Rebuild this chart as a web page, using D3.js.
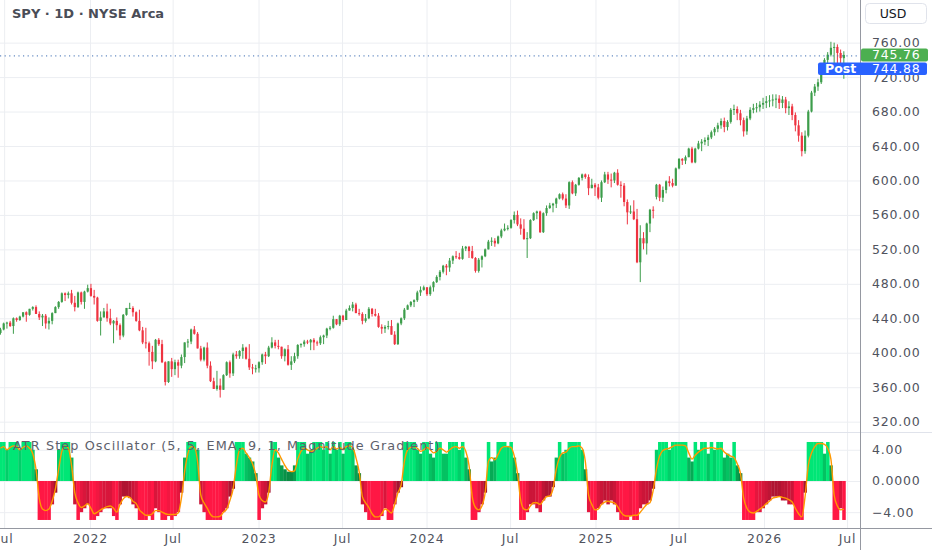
<!DOCTYPE html>
<html>
<head>
<meta charset="utf-8">
<script src="https://cdn.jsdelivr.net/npm/d3@7"></script>
<style>
  html, body { margin: 0; padding: 0; background: #ffffff; }
  svg { display: block; font-family: "DejaVu Sans", "Noto Sans", sans-serif; }
</style>
</head>
<body>
<div id="chart-area"></div>
<script>
// SPY weekly candles (first week: week of Jun 21 2021)
var open = [423,427,434,435,431,440,438,442,447,444,
  451,453,445,441,443,434,437,446,453,459,
  469,467,469,458,453,470,459,471,475,466,
  464,437,441,448,440,434,437,432,420,444,
  452,452,447,437,426,412,411,401,390,415,
  410,389,366,390,381,389,385,395,412,413,
  427,422,405,392,406,385,367,358,362,357,
  374,389,376,398,396,402,406,393,383,382,
  382,389,398,396,406,412,408,407,396,404,
  386,390,396,409,410,413,412,415,412,411,
  418,420,428,429,439,433,443,438,449,452,
  456,446,445,437,440,451,445,443,430,428,
  430,431,421,410,434,440,450,455,459,461,
  470,473,476,468,476,482,488,494,501,499,
  507,512,511,509,521,523,518,510,495,508,
  512,520,529,530,527,535,542,544,545,554,
  560,549,544,532,533,554,562,564,540,562,
  568,571,573,579,584,579,571,598,585,595,
  603,607,604,591,595,592,580,598,607,601,
  600,609,595,594,575,563,564,555,505,533,
  527,550,566,581,595,580,589,599,597,594,
  614,625,623,627,637,621,637,643,645,647,
  650,656,660,664,669,662,668,682,683,678,
  670,657,672,682,684,685,688,690,692,693,
  694,695,690,694,684,686,676,664,652,634,
  652,680,702,709,714,726,740,746,754,755,
  748,742];
var high = [429,435,436,437,441,441,443,447,448,451,
  454,455,448,445,445,441,447,454,460,470,
  470,471,473,466,471,471,472,479,480,473,
  465,448,452,457,451,438,441,434,445,452,
  458,454,448,450,430,429,413,408,416,417,
  415,390,390,394,392,392,398,412,416,428,
  431,424,408,407,412,390,371,379,370,375,
  390,391,400,402,403,410,407,410,387,386,
  390,399,401,408,418,415,415,407,405,409,
  396,400,410,411,415,415,416,417,414,420,
  421,429,431,443,439,444,444,451,455,459,
  458,451,447,445,453,452,451,446,433,432,
  437,438,425,435,441,452,456,460,462,472,
  477,478,476,478,483,490,496,502,503,510,
  513,518,516,524,524,524,524,511,510,513,
  521,531,534,533,536,544,550,548,555,564,
  565,556,555,540,555,563,565,565,563,571,
  574,574,580,585,586,584,599,600,596,604,
  608,608,607,602,597,596,600,610,610,608,
  610,613,599,597,578,571,577,567,548,540,
  551,567,570,596,596,593,600,605,602,615,
  626,626,629,638,639,638,646,648,650,653,
  658,662,667,672,673,670,684,688,686,682,
  673,675,685,689,690,692,696,698,699,700,
  700,699,698,697,692,689,679,670,656,658,
  682,704,712,718,728,742,749,761,760,758,
  752,750];
var low = [421,426,428,430,422,436,437,441,436,443,
  449,445,438,431,428,427,433,446,451,458,
  460,463,456,448,452,456,451,470,465,456,
  436,420,441,436,432,411,426,415,418,443,
  451,442,436,425,410,405,385,381,389,408,
  388,362,365,372,374,371,382,388,406,410,
  421,405,390,390,382,366,358,356,348,357,
  373,371,373,393,393,393,392,380,375,377,
  377,386,387,395,405,405,404,393,390,385,
  380,388,393,406,407,410,403,403,408,409,
  410,417,426,428,432,431,436,438,449,448,
  446,443,433,435,439,442,442,429,422,423,
  427,421,409,409,432,438,450,453,453,459,
  466,472,466,466,471,481,484,492,490,494,
  503,509,508,508,518,510,509,493,493,499,
  511,520,524,523,526,533,541,542,544,550,
  547,537,531,510,532,553,555,539,539,559,
  567,563,568,578,577,568,567,584,582,594,
  600,602,583,591,582,578,575,597,596,592,
  597,594,580,570,549,561,554,504,482,520,
  514,540,556,578,576,575,585,593,592,594,
  613,618,619,627,620,620,636,634,641,640,
  648,652,656,660,656,658,666,676,670,664,
  651,653,670,678,679,680,683,684,685,686,
  684,683,684,678,676,670,657,645,628,631,
  650,679,698,704,712,724,736,744,735,733,
  732,718];
var close = [427,434,435,431,440,438,442,447,444,451,
  453,445,441,443,434,437,446,453,459,469,
  467,469,458,453,470,459,471,475,466,464,
  437,441,448,440,434,437,432,420,444,452,
  452,447,437,426,412,411,401,390,415,410,
  389,366,390,381,389,385,395,412,413,427,
  422,405,392,406,385,367,358,362,357,374,
  389,376,398,396,402,406,393,383,382,382,
  389,398,396,406,412,408,407,396,404,386,
  390,396,409,410,413,412,415,412,411,418,
  420,428,429,439,433,443,438,449,452,456,
  446,445,437,440,451,445,443,430,428,430,
  431,421,410,434,440,450,455,459,461,470,
  473,476,468,476,482,488,494,501,499,507,
  512,511,509,521,523,518,510,495,508,512,
  520,529,530,527,535,542,544,545,554,560,
  549,544,532,533,554,562,564,540,562,568,
  571,573,579,584,579,571,598,585,595,603,
  607,604,591,595,592,580,598,607,601,600,
  609,595,594,575,563,564,555,505,533,527,
  550,566,565,595,580,589,599,597,594,614,
  625,623,627,637,621,637,643,645,647,650,
  656,660,664,669,662,668,682,683,678,670,
  657,672,682,684,685,688,690,692,693,694,
  695,690,694,684,686,676,664,652,634,652,
  680,702,709,714,726,740,746,754,755,748,
  742,745.76];

// ATR Step Oscillator histogram (clamped at +/-5) and its EMA line, same weeks
var osc = [5,5,4,5,5,5,4,5,5,5,4,1.5,
  -5,-5,-5,-5,-3,-1.5,
  4,5,5,5,3,
  -3,-5,-4,-3.5,-3,-5,-5,-4.5,-4,-3.5,-3.5,-3.5,-4.5,-5,-3,-2,-2,-2.2,-3,-3.5,-5,-5,-5,-4.5,-5,-3.5,-4,-5,-5,-4.5,-5,-4.5,-4,-1.5,
  3,5,5,5,4,
  -3,-4,-5,-5,-5,-5,-5,-4,-3.5,-2,-1,
  5,5,5,3.5,3,2.5,1,
  -5,-3.5,-3,-1.5,
  5,5,3,2,1.5,1.2,1.2,2,5,5,5,3.5,4,5,5,5,4,5,3.5,5,4,5,3.5,5,5,4,2,1,
  -3,-4,-5,-5,-5,-5,-4.5,-3.5,-5,-5,-3,-1.5,-0.8,
  5,5,5,5,4,3.5,5,5,3.5,3,5,5,3.5,3.5,5,5,5,4,5,3,1.5,
  -5,-5,-4,-3,-1.5,
  5,2.5,3,5,5,5,4.5,5,3,1,
  -5,-5,-4,-3,-3,-3.5,-4,-2.5,-2,-2,-0.8,
  3,5,3.5,4,5,5,5,5,4,1.5,
  -4,-5,-5,-3.5,-3,-2.5,-3,-2.5,-3,-4,-5,-5,-5,-4.5,-5,-5,-3.5,-3,-3,-2.5,-1,
  4,5,5,5,4,5,5,5,5,5,3,2.5,5,4,5,5,3.5,5,4,5,5,3,3.5,3,5,2,1,
  -5,-5,-5,-5,-4,-4,-3.5,-3,-2.5,-2,-2,-2,-2.5,-2.5,-3,-3,-5,-5,-5,-1.5,
  5,5,5,5,5,3.5,5,2,
  -5,-5,-3.5,-5];
var signal = [4.2,4.4,4.0,4.3,4.5,4.4,4.0,4.3,4.5,4.2,3.5,1.5,
  -2.2,-3.6,-3.8,-3.6,-2.6,-1.0,
  1.5,3.8,4.5,4.2,2.0,
  -1.5,-2.8,-3.4,-3.2,-2.9,-3.5,-4.2,-4.0,-3.7,-3.5,-3.3,-3.2,-3.5,-4.0,-3.0,-2.3,-2.0,-2.1,-2.6,-2.9,-3.7,-4.1,-4.4,-4.4,-4.2,-3.8,-3.8,-4.0,-4.2,-4.3,-4.3,-4.3,-4.1,-2.2,
  1.2,3.5,4.4,4.3,2.5,
  -1.8,-2.8,-3.5,-4.3,-4.6,-4.6,-4.5,-4.0,-3.6,-2.5,-1.0,
  2.0,4.0,4.2,3.6,3.0,2.2,0.8,
  -1.8,-2.5,-2.7,-1.5,
  2.0,4.0,3.6,2.8,2.0,1.4,1.2,1.3,2.8,3.8,4.2,4.0,3.8,3.9,4.2,4.4,4.3,4.4,4.0,4.4,4.1,4.3,4.0,4.4,4.5,4.3,3.0,1.2,
  -2.0,-2.8,-3.4,-4.2,-4.6,-4.6,-4.2,-3.6,-3.8,-4.1,-3.0,-1.5,-0.5,
  2.5,4.0,4.3,4.4,4.2,3.8,4.0,4.3,4.0,3.6,3.8,4.2,4.0,3.7,4.0,4.3,4.4,4.2,4.4,3.8,2.0,
  -2.0,-3.4,-3.7,-3.2,-1.5,
  2.5,3.0,2.7,3.4,4.2,4.4,4.4,4.3,3.2,1.0,
  -2.5,-3.6,-3.7,-3.2,-2.8,-2.8,-3.0,-2.5,-2.0,-1.9,-1.0,
  1.5,3.0,3.6,3.7,4.2,4.4,4.4,4.5,4.2,2.5,
  -1.8,-3.0,-3.7,-3.6,-3.0,-2.7,-2.6,-2.7,-2.8,-3.3,-4.0,-4.4,-4.5,-4.5,-4.4,-4.4,-4.0,-3.5,-3.0,-2.8,-1.2,
  1.5,3.2,3.9,4.1,4.2,4.4,4.6,4.6,4.6,4.5,3.6,2.8,3.3,3.7,4.0,4.2,4.2,4.3,4.2,4.1,4.2,3.7,3.4,3.2,3.0,2.2,1.0,
  -2.2,-3.5,-4.0,-4.1,-3.9,-3.6,-3.3,-2.9,-2.6,-2.2,-2.1,-2.0,-2.1,-2.2,-2.4,-2.7,-3.5,-4.2,-4.6,-2.0,
  2.0,3.6,4.4,4.8,4.8,4.7,4.2,2.8,
  -1.8,-3.2,-3.7,-3.6];

var priceTicks = [320, 360, 400, 440, 480, 520, 560, 600, 640, 680, 720, 760];
var oscTicks = [4, 0, -4];
var timeTicks = [new Date(2021, 6, 1), new Date(2022, 0, 3), new Date(2022, 6, 1),
  new Date(2023, 0, 3), new Date(2023, 6, 3), new Date(2024, 0, 2), new Date(2024, 6, 1),
  new Date(2025, 0, 2), new Date(2025, 6, 1), new Date(2026, 0, 2), new Date(2026, 6, 1)];

var lastPrice = 745.76,
    postPrice = 744.88;

var width = 932, height = 550;
var plotW = 860;
var mainBottom = 432, oscBottom = 528;

var upColor = "#3d9d4b", downColor = "#ee3340";
var textColor = "#50535e", gridColor = "#eceef2", sepColor = "#9598a1";

var svg = d3.select("#chart-area")
    .append("svg")
        .attr("width", width)
        .attr("height", height);

// one candle per week, centred on the Wednesday
var weeks = d3.timeWednesday.range(new Date(2021, 5, 23), new Date(2026, 5, 26));

var bars = close.map(function (c, i) {
    return {date: weeks[i], o: open[i], h: high[i], l: low[i], c: c, osc: osc[i], sig: signal[i]};
});

// X Scale (time, shared by both panes)
var x = d3.scaleTime()
    .domain([new Date(2021, 5, 22), new Date(2026, 6, 29)])
    .range([0, plotW]);

// Y Scales
var y = d3.scaleLinear().domain([308, 809.5]).range([mainBottom, 0]);
var y2 = d3.scaleLinear().domain([-6.03, 6.28]).range([oscBottom, mainBottom]);

var step = x(weeks[1]) - x(weeks[0]);

svg.append("defs").selectAll("clipPath")
    .data([["clipMain", 0, mainBottom], ["clipOsc", mainBottom, oscBottom - mainBottom]])
    .enter().append("clipPath")
        .attr("id", function (d) { return d[0]; })
    .append("rect")
        .attr("x", 0).attr("y", function (d) { return d[1]; })
        .attr("width", plotW).attr("height", function (d) { return d[2]; });

function styleGrid(g) {
    g.select(".domain").remove();
    g.selectAll("line").attr("stroke", gridColor);
}

// Grid lines
svg.append("g")
    .call(d3.axisBottom(x).tickValues(timeTicks).tickSize(oscBottom).tickFormat(""))
    .call(styleGrid);
svg.append("g")
    .call(d3.axisRight(y).tickValues(priceTicks).tickSize(plotW).tickFormat(""))
    .call(styleGrid);
svg.append("g")
    .call(d3.axisRight(y2).tickValues(oscTicks).tickSize(plotW).tickFormat(""))
    .call(styleGrid);

// Candles
var gMain = svg.append("g").attr("clip-path", "url(#clipMain)");
var candle = gMain.selectAll("g.candle")
    .data(bars)
    .enter().append("g")
        .attr("class", "candle")
        .attr("fill", function (d) { return d.c >= d.o ? upColor : downColor; })
        .attr("stroke", function (d) { return d.c >= d.o ? upColor : downColor; });

candle.append("line")
    .attr("x1", function (d) { return x(d.date); })
    .attr("x2", function (d) { return x(d.date); })
    .attr("y1", function (d) { return y(d.h); })
    .attr("y2", function (d) { return y(d.l); })
    .attr("stroke-width", 1);

candle.append("rect")
    .attr("stroke", "none")
    .attr("x", function (d) { return x(d.date) - 1.1; })
    .attr("width", 2.2)
    .attr("y", function (d) { return y(Math.max(d.o, d.c)); })
    .attr("height", function (d) { return Math.max(1, Math.abs(y(d.o) - y(d.c))); });

// last price line (dotted)
svg.append("line")
    .attr("x1", 0).attr("x2", plotW)
    .attr("y1", y(lastPrice) + 1).attr("y2", y(lastPrice) + 1)
    .attr("stroke", "#3f6fb3")
    .attr("stroke-width", 1)
    .attr("stroke-dasharray", "1.2,3.4");

// Oscillator histogram with magnitude gradient
var greenScale = d3.scaleLinear().domain([0, 5]).range(["#0c6e33", "#00e676"]).clamp(true);
var redScale = d3.scaleLinear().domain([0, 5]).range(["#7c1226", "#ff1744"]).clamp(true);

var gOsc = svg.append("g").attr("clip-path", "url(#clipOsc)");
gOsc.selectAll("rect")
    .data(bars)
    .enter().append("rect")
        .attr("x", function (d) { return x(d.date) - step / 2; })
        .attr("width", step + 0.3)
        .attr("y", function (d) { return y2(Math.max(0, d.osc)); })
        .attr("height", function (d) { return Math.abs(y2(d.osc) - y2(0)); })
        .attr("fill", function (d) { return d.osc >= 0 ? greenScale(d.osc) : redScale(-d.osc); });

var sigLine = d3.line()
    .x(function (d) { return x(d.date); })
    .y(function (d) { return y2(d.sig); })
    .curve(d3.curveMonotoneX);

gOsc.append("path")
    .datum(bars)
    .attr("d", sigLine)
    .attr("fill", "none")
    .attr("stroke", "#ff9800")
    .attr("stroke-width", 1.4);

// Pane separators
svg.append("line")
    .attr("x1", 0).attr("x2", width).attr("y1", mainBottom + 0.5).attr("y2", mainBottom + 0.5)
    .attr("stroke", "#e0e3eb");
svg.append("line")
    .attr("x1", 0).attr("x2", width).attr("y1", oscBottom + 0.5).attr("y2", oscBottom + 0.5)
    .attr("stroke", sepColor);
svg.append("line")
    .attr("x1", plotW + 0.5).attr("x2", plotW + 0.5).attr("y1", 0).attr("y2", height)
    .attr("stroke", sepColor);

function styleAxis(g) {
    g.select(".domain").remove();
    g.attr("font-family", null).attr("font-size", null);
    g.selectAll("text")
        .attr("fill", textColor)
        .attr("font-size", "12.5px")
        .style("letter-spacing", "0.8px");
}

// Price axis
svg.append("g")
    .attr("transform", "translate(" + plotW + ",0)")
    .call(d3.axisRight(y).tickValues(priceTicks).tickSize(0).tickPadding(12).tickFormat(d3.format(".2f")))
    .call(styleAxis);

// Oscillator axis
svg.append("g")
    .attr("transform", "translate(" + plotW + ",0)")
    .call(d3.axisRight(y2).tickValues(oscTicks).tickSize(0).tickPadding(12)
        .tickFormat(function (d) {
            if (d === 0) return "0.0000";
            return (d < 0 ? "\u2212" : "") + Math.abs(d).toFixed(2);
        }))
    .call(styleAxis);

// Time axis
svg.append("g")
    .attr("transform", "translate(0," + oscBottom + ")")
    .call(d3.axisBottom(x).tickValues(timeTicks).tickSize(0).tickPadding(6)
        .tickFormat(function (d) { return d.getMonth() === 0 ? d.getFullYear() : "Jul"; }))
    .call(styleAxis);

// Price labels on the axis
var lastY = y(lastPrice);
svg.append("rect")
    .attr("x", plotW + 1).attr("y", lastY - 6.5).attr("width", 67).attr("height", 13).attr("rx", 2)
    .attr("fill", "#4caf50");
svg.append("text")
    .attr("x", plotW + 12).attr("y", lastY + 4.5)
    .attr("fill", "#ffffff").attr("font-size", "12.5px").style("letter-spacing", "0.8px")
    .text(lastPrice.toFixed(2));

var postTop = lastY + 7.5;
svg.append("rect")
    .attr("x", plotW - 42).attr("y", postTop).attr("width", 109).attr("height", 12.5).attr("rx", 2)
    .attr("fill", "#2962ff");
svg.append("text")
    .attr("x", plotW - 35).attr("y", postTop + 10.5)
    .attr("fill", "#ffffff").attr("font-size", "12.5px").attr("font-weight", "bold")
    .text("Post");
svg.append("text")
    .attr("x", plotW + 12).attr("y", postTop + 10.5)
    .attr("fill", "#ffffff").attr("font-size", "12.5px").style("letter-spacing", "0.8px")
    .text(postPrice.toFixed(2));

// Currency button
svg.append("rect")
    .attr("x", 865.5).attr("y", 3.5).attr("width", 61).attr("height", 20).attr("rx", 4)
    .attr("fill", "#ffffff").attr("stroke", "#e0e3eb");
svg.append("text")
    .attr("x", 893).attr("y", 18)
    .attr("text-anchor", "middle")
    .attr("fill", "#131722").attr("font-size", "12.5px")
    .text("USD");

// Legends
svg.append("text")
    .attr("x", 12).attr("y", 18)
    .attr("fill", "#4a4d57").attr("font-size", "13px").attr("font-weight", "bold")
    .text("SPY \u00b7 1D \u00b7 NYSE Arca");

svg.append("text")
    .attr("x", 13).attr("y", 450)
    .attr("fill", "#5d606b").attr("font-size", "12.8px")
    .style("letter-spacing", "1.1px")
    .text("ATR Step Oscillator (5, 5, EMA, 9, 1, Magnitude Gradient)");
</script>
</body>
</html>
